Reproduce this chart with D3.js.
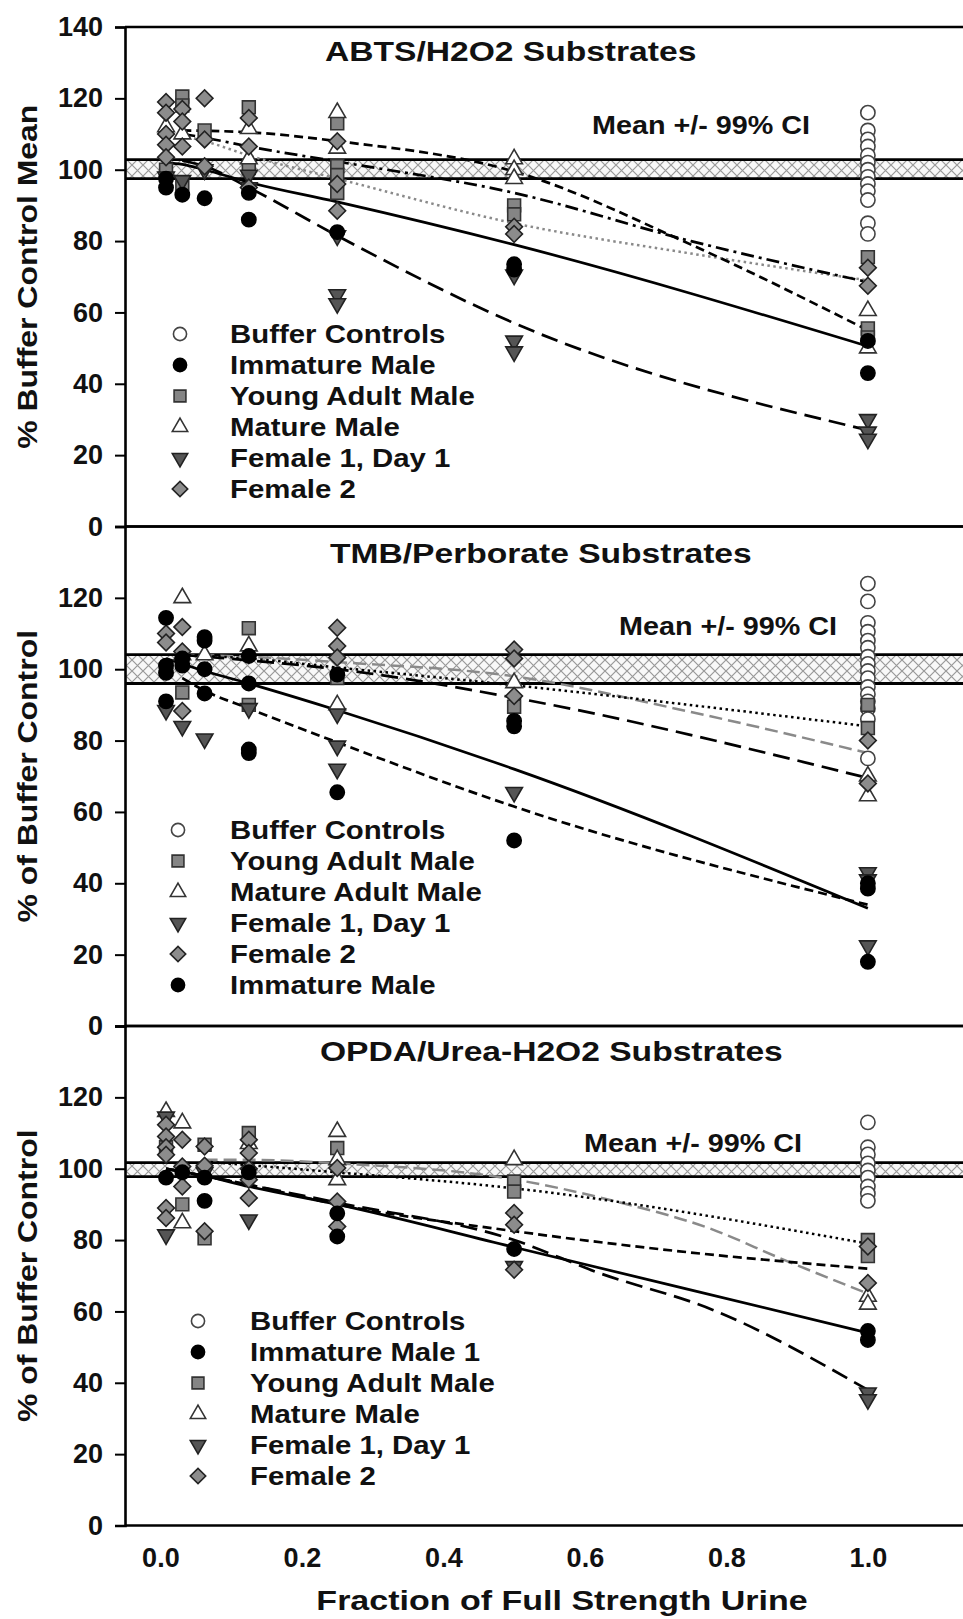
<!DOCTYPE html>
<html><head><meta charset="utf-8">
<script src="https://cdn.jsdelivr.net/npm/d3@7"></script>
<style>
body{margin:0;background:#fff}
text{font-family:"Liberation Sans",Arial,sans-serif;font-weight:bold;fill:#111}
</style>
</head><body>
<svg id="chart" width="963" height="1619"></svg>
<script>
// ---------------- DATA ----------------
const xTicks = [0, 0.2, 0.4, 0.6, 0.8, 1.0];
const yTicksTop = [0, 20, 40, 60, 80, 100, 120, 140];
const yTicks = [0, 20, 40, 60, 80, 100, 120];

// ABTS/H2O2 panel
const abtsBuffer = [[1,116],[1,111],[1,108.5],[1,106.5],[1,104],[1,102],[1,100],[1,98],[1,96],[1,94],[1,91.5],[1,85],[1,82]];
const abtsImmature = [[0.008,95],[0.008,97.5],[0.031,93],[0.0625,92],[0.125,93.5],[0.125,86],[0.25,82.5],[0.5,73.5],[0.5,72],[1,52],[1,43]];
const abtsYoung = [[0.008,100],[0.031,120.5],[0.031,118],[0.031,96],[0.0625,111],[0.125,117.5],[0.125,100.5],[0.25,113],[0.25,101],[0.25,98.5],[0.25,93.5],[0.5,90],[0.5,87.5],[1,75.5],[1,55.5],[1,53]];
const abtsMature = [[0.008,112],[0.031,110],[0.125,111.5],[0.125,103],[0.25,116],[0.25,106],[0.5,103],[0.5,100],[0.5,97.5],[1,60.5],[1,50]];
const abtsFemale1 = [[0.008,98],[0.031,97],[0.0625,100],[0.125,98.5],[0.125,95],[0.25,81.5],[0.25,65],[0.25,62.5],[0.5,70.5],[0.5,52],[0.5,49],[1,30],[1,26.5],[1,24.5]];
const abtsFemale2 = [[0.008,119],[0.008,116],[0.008,110],[0.008,107],[0.008,103.5],[0.031,117],[0.031,113.5],[0.031,106.5],[0.0625,120],[0.0625,108.5],[0.0625,101],[0.125,114.5],[0.125,106.5],[0.125,95],[0.25,108],[0.25,96],[0.25,88.5],[0.5,84],[0.5,82],[1,72.5],[1,67.5]];
const abtsFitSolid = [[0.008,102],[0.031,101.5],[0.0625,100],[0.125,96.5],[0.25,91],[0.5,79],[1,50.5]];
const abtsFitLongDash = [[0.031,102.5],[0.0625,101],[0.125,95],[0.25,81.5],[0.5,57],[1,27]];
const abtsFitShortDash = [[0.031,111],[0.125,110.5],[0.25,108],[0.5,99.5],[0.75,79],[1,55]];
const abtsFitDashDot = [[0.031,110],[0.0625,109],[0.125,106.5],[0.25,102.3],[0.5,93.5],[0.75,80],[1,68.5]];
const abtsFitDotted = [[0.031,109.5],[0.0625,108],[0.125,104],[0.25,97.5],[0.5,85],[0.75,76.5],[1,69]];
const abtsCI = [97.5, 102.8];

// TMB/Perborate panel
const tmbBuffer = [[1,124],[1,119],[1,113],[1,110.5],[1,108],[1,106],[1,103.5],[1,101.5],[1,99.5],[1,97.5],[1,95],[1,93],[1,91],[1,89],[1,86],[1,75]];
const tmbYoung = [[0.008,100],[0.031,93.5],[0.125,111.5],[0.125,90],[0.25,97.5],[0.5,89.5],[1,90],[1,83.5]];
const tmbMature = [[0.031,120],[0.031,104],[0.0625,104],[0.125,106.5],[0.25,90],[0.5,96.2],[1,70],[1,64.5]];
const tmbFemale1 = [[0.008,88.5],[0.031,84],[0.0625,80.5],[0.125,89],[0.25,87.5],[0.25,78.5],[0.25,72],[0.5,65.5],[1,43],[1,41],[1,22.5]];
const tmbFemale2 = [[0.008,110],[0.008,107.5],[0.031,111.8],[0.031,105],[0.031,88.3],[0.25,111.6],[0.25,106.5],[0.25,103.3],[0.5,105.5],[0.5,103],[0.5,92.5],[1,80],[1,68]];
const tmbImmature = [[0.008,114.4],[0.008,101],[0.008,99],[0.008,91],[0.031,103],[0.031,101],[0.0625,109],[0.0625,108],[0.0625,100],[0.0625,93.2],[0.125,103.7],[0.125,96],[0.125,77.5],[0.125,76.5],[0.25,98.5],[0.25,65.5],[0.5,85.5],[0.5,84],[0.5,52],[1,40],[1,38.5],[1,18]];
const tmbFitSolid = [[0.008,103],[0.031,101.5],[0.0625,99.5],[0.125,96],[0.25,88.5],[0.5,72],[1,33]];
const tmbFitShortDash = [[0.031,97.5],[0.0625,94],[0.125,89],[0.25,79.5],[0.5,61.5],[1,34]];
const tmbFitLongDash = [[0.031,104],[0.125,102.5],[0.25,100],[0.5,92],[1,69.5]];
const tmbFitDotted = [[0.031,104],[0.125,103],[0.25,100.5],[0.5,95.5],[1,84]];
const tmbFitGrey = [[0.031,104],[0.125,103.5],[0.25,102],[0.5,98],[0.75,88],[1,76.5]];
const tmbCI = [96, 104.1];

// OPDA/Urea-H2O2 panel
const opdaBuffer = [[1,113],[1,106],[1,104],[1,101.5],[1,99.5],[1,97.5],[1,95],[1,93],[1,91]];
const opdaImmature = [[0.008,97.5],[0.031,99],[0.0625,97.5],[0.0625,91],[0.125,99],[0.25,87.5],[0.25,81],[0.5,77.5],[1,54.5],[1,52]];
const opdaYoung = [[0.008,106],[0.031,90],[0.0625,106.7],[0.0625,80.5],[0.125,110],[0.25,105.8],[0.5,96.4],[0.5,93.6],[1,80],[1,75.5]];
const opdaMature = [[0.008,116],[0.031,112.8],[0.031,84.8],[0.125,107],[0.25,110.4],[0.25,102.5],[0.25,96.9],[0.5,102.5],[1,64.2],[1,62]];
const opdaFemale1 = [[0.008,114.5],[0.008,81.5],[0.0625,99],[0.125,85.7],[0.5,72.6],[1,37.2],[1,35.3]];
const opdaFemale2 = [[0.008,112.3],[0.008,109],[0.008,106],[0.008,103.9],[0.008,89],[0.008,86.2],[0.031,108.1],[0.031,100.6],[0.031,95],[0.0625,106.2],[0.0625,100.8],[0.0625,82.5],[0.125,108.1],[0.125,104.4],[0.125,100],[0.125,96.9],[0.125,91.8],[0.25,100.2],[0.25,90.8],[0.25,83.8],[0.5,87.6],[0.5,84.3],[0.5,71.7],[1,78.2],[1,68]];
const opdaFitSolid = [[0.008,100],[0.0625,98],[0.125,95],[0.25,90],[0.5,78],[1,54]];
const opdaFitLongDash = [[0.008,100],[0.125,95.5],[0.25,90.5],[0.5,80],[0.617,71],[0.78,60.5],[1,38]];
const opdaFitShortDash = [[0.008,100],[0.125,95.5],[0.25,90],[0.5,82.5],[0.75,76.5],[1,72]];
const opdaFitDotted = [[0.0625,102],[0.125,101],[0.25,99],[0.5,94.5],[1,79]];
const opdaFitGrey = [[0.0625,102.5],[0.125,102.5],[0.25,101.5],[0.5,97],[0.64,91],[0.78,83],[0.875,75],[1,65]];
const opdaCI = [97.8, 101.7];

// ---------------- STYLES / LAYOUT ----------------
const svg = d3.select("#chart");
const left = 125, right = 974;
const panelH = 499.5;
const x = d3.scaleLinear().domain([-0.05, 1.15]).range([left, right]);

const markerStyle = {
  buffer:   {type: d3.symbolCircle,   size: 160, fill: "#fff",    stroke: "#444", rot: 0},
  immature: {type: d3.symbolCircle,   size: 160, fill: "#000",    stroke: "#000", rot: 0},
  young:    {type: d3.symbolSquare,   size: 165, fill: "#858585", stroke: "#333", rot: 0},
  mature:   {type: d3.symbolTriangle, size: 120, fill: "#fff",    stroke: "#333", rot: 0},
  female1:  {type: d3.symbolTriangle, size: 120, fill: "#555",    stroke: "#222", rot: 180},
  female2:  {type: d3.symbolSquare,   size: 140, fill: "#8c8c8c", stroke: "#222", rot: 45}
};
const legendScale = 0.85;
const lineStyle = {
  solid:     {stroke: "#000", dash: null,         w: 2.7},
  longdash:  {stroke: "#000", dash: "17,8",       w: 2.7},
  shortdash: {stroke: "#000", dash: "9,5",        w: 2.7},
  dashdot:   {stroke: "#000", dash: "13,5,3,5",   w: 2.7},
  dotted:    {stroke: "#000", dash: "2.5,3.5",    w: 2.5},
  greydot:   {stroke: "#8a8a8a", dash: "2.5,3.5", w: 2.5},
  greydash:  {stroke: "#8a8a8a", dash: "13,6",    w: 2.5}
};

const panels = [
  {top: 27, ticks: yTicksTop, ci: abtsCI,
   title: "ABTS/H2O2 Substrates", titleX: 325, titleY: 51,
   ciX: 592, ciY: 125, ytitle: "% Buffer Control Mean",
   series: {buffer: abtsBuffer, young: abtsYoung, mature: abtsMature, female1: abtsFemale1, female2: abtsFemale2, immature: abtsImmature},
   fits: [[abtsFitDotted,"greydot"],[abtsFitDashDot,"dashdot"],[abtsFitShortDash,"shortdash"],[abtsFitSolid,"solid"],[abtsFitLongDash,"longdash"]],
   legend: {mx: 180, tx: 230, y0: 334, items: [["Buffer Controls","buffer"],["Immature Male","immature"],["Young Adult Male","young"],["Mature Male","mature"],["Female 1, Day 1","female1"],["Female 2","female2"]]}},
  {top: 27 + panelH, ticks: yTicks, ci: tmbCI,
   title: "TMB/Perborate Substrates", titleX: 330, titleY: 553,
   ciX: 619, ciY: 626, ytitle: "% of Buffer Control",
   series: {buffer: tmbBuffer, young: tmbYoung, mature: tmbMature, female1: tmbFemale1, female2: tmbFemale2, immature: tmbImmature},
   fits: [[tmbFitGrey,"greydash"],[tmbFitDotted,"dotted"],[tmbFitLongDash,"longdash"],[tmbFitSolid,"solid"],[tmbFitShortDash,"shortdash"]],
   legend: {mx: 178, tx: 230, y0: 830, items: [["Buffer Controls","buffer"],["Young Adult Male","young"],["Mature Adult Male","mature"],["Female 1, Day 1","female1"],["Female 2","female2"],["Immature Male","immature"]]}},
  {top: 27 + 2*panelH, ticks: yTicks, ci: opdaCI,
   title: "OPDA/Urea-H2O2 Substrates", titleX: 320, titleY: 1051,
   ciX: 584, ciY: 1143, ytitle: "% of Buffer Control",
   series: {buffer: opdaBuffer, young: opdaYoung, mature: opdaMature, female1: opdaFemale1, female2: opdaFemale2, immature: opdaImmature},
   fits: [[opdaFitGrey,"greydash"],[opdaFitDotted,"dotted"],[opdaFitShortDash,"shortdash"],[opdaFitSolid,"solid"],[opdaFitLongDash,"longdash"]],
   legend: {mx: 198, tx: 250, y0: 1321, items: [["Buffer Controls","buffer"],["Immature Male 1","immature"],["Young Adult Male","young"],["Mature Male","mature"],["Female 1, Day 1","female1"],["Female 2","female2"]]}}
];

// hatch pattern for the CI band
const defs = svg.append("defs");
const pat = defs.append("pattern").attr("id","hatch").attr("patternUnits","userSpaceOnUse")
  .attr("width",11).attr("height",11);
pat.append("rect").attr("width",11).attr("height",11).attr("fill","#f8f8f8");
pat.append("path").attr("d","M0,0L11,11M11,0L0,11M-1,10L1,12M10,-1L12,1")
  .attr("stroke","#999").attr("stroke-width",1.2);

function stext(g, px, py, str, size, sx, anchor, rot) {
  return g.append("text")
    .attr("transform", `translate(${px},${py}) rotate(${rot||0}) scale(${sx},1)`)
    .attr("text-anchor", anchor || "start")
    .attr("dy", "0.36em")
    .style("font-size", size + "px")
    .text(str);
}

function drawMarker(g, kind, px, py, k) {
  const st = markerStyle[kind];
  g.append("path")
    .attr("d", d3.symbol().type(st.type).size(st.size * (k || 1))())
    .attr("transform", `translate(${px},${py}) rotate(${st.rot})`)
    .attr("fill", st.fill).attr("stroke", st.stroke).attr("stroke-width", 1.6);
}

const drawOrder = ["buffer","young","mature","female1","female2","immature"];

panels.forEach(p => {
  const g = svg.append("g");
  const y = d3.scaleLinear().domain([0,140]).range([p.top + panelH, p.top]);

  // CI band
  g.append("rect").attr("x", left).attr("width", right-left)
    .attr("y", y(p.ci[1])).attr("height", y(p.ci[0]) - y(p.ci[1]))
    .attr("fill","url(#hatch)");
  [p.ci[0], p.ci[1]].forEach(v => g.append("line")
    .attr("x1", left).attr("x2", right).attr("y1", y(v)).attr("y2", y(v))
    .attr("stroke","#000").attr("stroke-width",2.8));

  // fits
  const line = d3.line().x(d => x(d[0])).y(d => y(d[1])).curve(d3.curveMonotoneX);
  p.fits.forEach(([data, styleKey]) => {
    const ls = lineStyle[styleKey];
    g.append("path").datum(data).attr("d", line)
      .attr("fill","none").attr("stroke", ls.stroke).attr("stroke-width", ls.w)
      .attr("stroke-dasharray", ls.dash);
  });

  // markers
  drawOrder.forEach(k => {
    p.series[k].forEach(d => drawMarker(g, k, x(d[0]), y(d[1])));
  });

  // frame
  g.append("line").attr("x1", left).attr("x2", right).attr("y1", p.top).attr("y2", p.top)
    .attr("stroke","#000").attr("stroke-width",2.6);
  g.append("line").attr("x1", left).attr("x2", right).attr("y1", p.top+panelH).attr("y2", p.top+panelH)
    .attr("stroke","#000").attr("stroke-width",2.6);

  // y axis
  const ax = g.append("g").attr("transform", `translate(${left},0)`)
    .call(d3.axisLeft(y).tickValues(p.ticks).tickSize(10).tickPadding(12).tickFormat(d3.format("d")));
  ax.select(".domain").attr("stroke","#000").attr("stroke-width",2.6);
  ax.selectAll(".tick line").attr("stroke","#000").attr("stroke-width",2);
  ax.selectAll(".tick text").style("font-size","27px").style("font-family",'"Liberation Sans",Arial,sans-serif')
    .style("font-weight","bold").attr("fill","#111");

  // titles
  stext(g, p.titleX, p.titleY, p.title, 28, 1.2, "start");
  stext(g, p.ciX, p.ciY, "Mean +/- 99% CI", 25, 1.15, "start");
  stext(g, 27, p.top + panelH/2, p.ytitle, 28, 1.14, "middle", -90);

  // legend
  p.legend.items.forEach(([label, kind], i) => {
    const ly = p.legend.y0 + i*31;
    drawMarker(g, kind, p.legend.mx, ly, legendScale);
    stext(g, p.legend.tx, ly, label, 26, 1.13, "start");
  });
});

// x axis
const bottom = 27 + 3*panelH;
const xa = svg.append("g").attr("transform", `translate(0,${bottom})`)
  .call(d3.axisBottom(x).tickValues(xTicks).tickSize(0).tickPadding(22).tickFormat(d3.format(".1f")));
xa.select(".domain").remove();
xa.selectAll(".tick text").style("font-size","27px").style("font-family",'"Liberation Sans",Arial,sans-serif')
  .style("font-weight","bold").attr("fill","#111");
stext(svg, 562, 1600, "Fraction of Full Strength Urine", 27, 1.26, "middle");
</script>
</body></html>
